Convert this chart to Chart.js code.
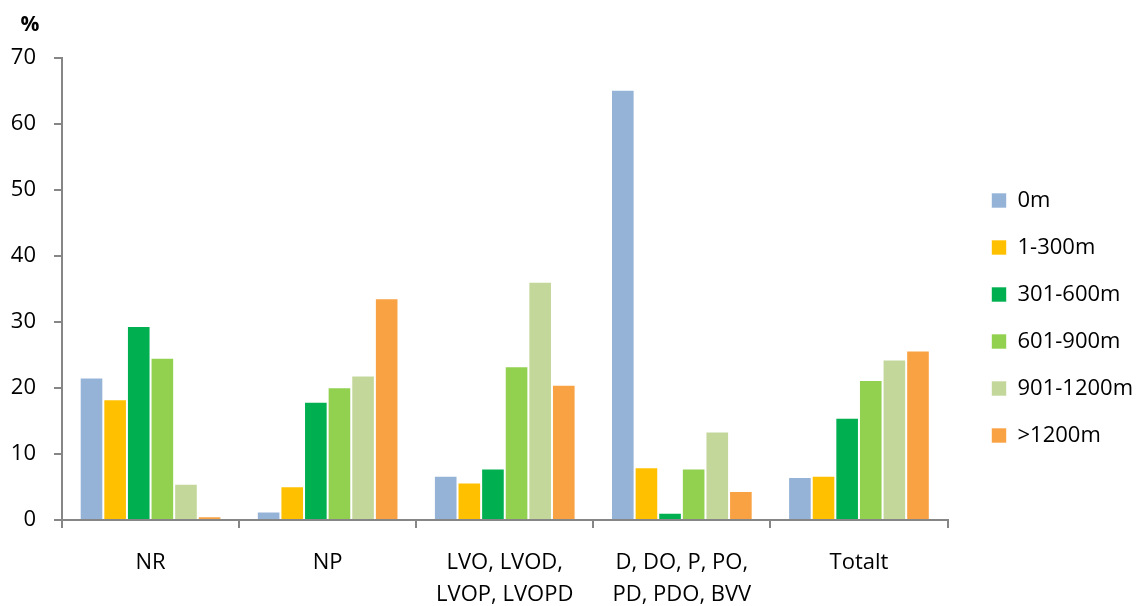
<!DOCTYPE html>
<html lang="sv">
<head>
  <meta charset="UTF-8" />
  <title>Andel per avstånd</title>
  <script src="https://cdn.jsdelivr.net/npm/chart.js"></script>
  <style>
    html, body { margin: 0; padding: 0; background: #fff; }
    #wrap { width: 1137px; height: 606px; position: relative; }
  </style>
</head>
<body>
  <div id="wrap"><canvas id="chart" width="1137" height="606"></canvas></div>

  <script>
    // categories and series (values in %)
    const categories = [
      'NR',
      'NP',
      ['LVO, LVOD,', 'LVOP, LVOPD'],
      ['D, DO, P, PO,', 'PD, PDO, BVV'],
      'Totalt'
    ];
    const seriesNames = ['0m', '1-300m', '301-600m', '601-900m', '901-1200m', '>1200m'];
    const s0m       = [21.6, 1.3, 6.7, 65.2, 6.5];
    const s1_300    = [18.3, 5.1, 5.7, 8.0, 6.7];
    const s301_600  = [29.4, 17.9, 7.8, 1.1, 15.5];
    const s601_900  = [24.6, 20.1, 23.3, 7.8, 21.2];
    const s901_1200 = [5.5, 21.9, 36.1, 13.4, 24.3];
    const sOver1200 = [0.55, 33.6, 20.5, 4.4, 25.7];
    const yTicks = [0, 10, 20, 30, 40, 50, 60, 70];

    const colors = ['#95b3d7', '#ffc000', '#00b050', '#92d050', '#c4d79b', '#f9a244'];
    const values = [s0m, s1_300, s301_600, s601_900, s901_1200, sOver1200];

    const font = "'Open Sans', 'Liberation Sans', sans-serif";
    const axisGray = '#868686';

    // "%" label above the y axis, and nudge the legend up a bit
    const extras = {
      id: 'extras',
      afterLayout(chart) {
        chart.legend.top -= 14;
        chart.legend.bottom -= 14;
      },
      afterDraw(chart) {
        const c = chart.ctx;
        c.save();
        c.font = 'bold 21px ' + font;
        c.fillStyle = '#000';
        c.textAlign = 'center';
        c.textBaseline = 'middle';
        c.fillText('%', 30, 25);
        c.restore();
      }
    };

    new Chart(document.getElementById('chart'), {
      type: 'bar',
      data: {
        labels: categories,
        datasets: seriesNames.map((name, i) => ({
          label: name,
          data: values[i],
          backgroundColor: colors[i],
          borderColor: 'rgba(255,255,255,0.6)',
          borderWidth: 1,
          categoryPercentage: 0.8,
          barPercentage: 1.0
        }))
      },
      options: {
        responsive: false,
        animation: false,
        devicePixelRatio: 1,
        layout: { padding: { top: 58, right: -6, left: 0, bottom: 0 } },
        plugins: {
          tooltip: { enabled: false },
          legend: {
            position: 'right',
            align: 'center',
            labels: {
              font: { family: font, size: 22 },
              color: '#000',
              boxWidth: 15,
              boxHeight: 15,
              padding: 25
            }
          }
        },
        scales: {
          x: {
            afterFit(axis) { axis.height = 86; },
            grid: { display: true, drawOnChartArea: false, offset: true, color: axisGray, lineWidth: 2, tickLength: 8 },
            border: { color: axisGray, width: 2 },
            ticks: { font: { family: font, size: 22, lineHeight: 1.45 }, color: '#000', padding: 19, maxRotation: 0, autoSkip: false }
          },
          y: {
            min: 0,
            max: 70,
            afterFit(axis) { axis.width = 62; },
            afterBuildTicks(axis) { axis.ticks = yTicks.map(v => ({ value: v })); },
            grid: { display: true, drawOnChartArea: false, color: axisGray, lineWidth: 2, tickLength: 8 },
            border: { color: axisGray, width: 2 },
            ticks: { font: { family: font, size: 22 }, color: '#000', padding: 18 }
          },
          gap: {
            // empty space between plot and legend
            position: 'right',
            afterFit(axis) { axis.width = 19; },
            grid: { display: false },
            border: { display: false },
            ticks: { display: false }
          }
        }
      },
      plugins: [extras]
    });
  </script>
</body>
</html>
